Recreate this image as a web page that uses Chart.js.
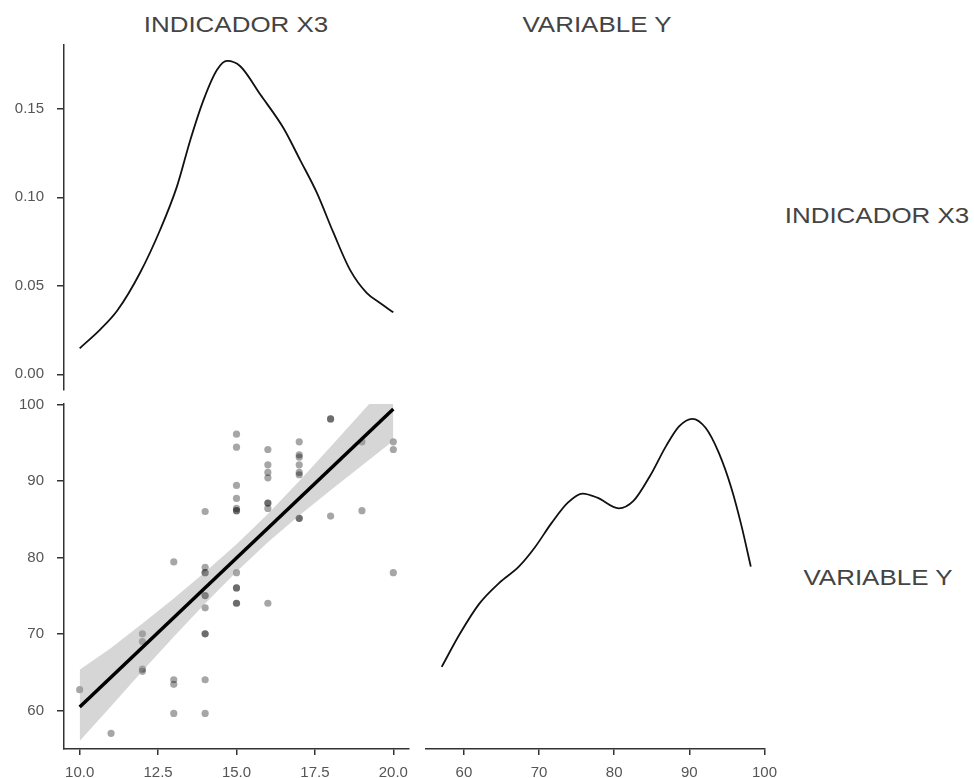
<!DOCTYPE html>
<html lang="es">
<head>
<meta charset="utf-8">
<title>Matriz de dispersión</title>
<script src="https://cdn.jsdelivr.net/npm/chart.js@4.4.1/dist/chart.umd.min.js"></script>
<style>
    body { margin: 0; background: #fff; }
    #wrap { position: relative; width: 974px; height: 778px; font-family: "Liberation Sans", Arial, sans-serif; }
    #wrap canvas { position: absolute; }
    .etiqueta {
        position: absolute;
        transform: translate(-50%, -50%) scaleX(1.18);
        white-space: nowrap;
        font-size: 22px;
        color: #444;
    }
</style>
</head>
<body>
<div id="wrap">
    <div class="etiqueta" style="left:236px; top:25px;">INDICADOR X3</div>
    <div class="etiqueta" style="left:597px; top:25px;">VARIABLE Y</div>
    <div class="etiqueta" style="left:877px; top:216px;">INDICADOR X3</div>
    <div class="etiqueta" style="left:878px; top:578px;">VARIABLE Y</div>

    <canvas id="densX3" width="420" height="365" style="left:0; top:35px;"></canvas>
    <canvas id="dispersion" width="424" height="384" style="left:0; top:394px;"></canvas>
    <canvas id="densY" width="370" height="384" style="left:416px; top:394px;"></canvas>
</div>

<script>
// Densidad del indicador X3
const x3Grid = [10.0, 10.66, 11.2, 11.93, 12.57, 13.1, 13.53, 13.95, 14.38, 14.7, 15.12, 15.76, 16.5, 17.03, 17.56, 18.09, 18.62, 19.15, 19.6, 20.0];
const x3Dens = [0.0147, 0.0254, 0.036, 0.0575, 0.0818, 0.106, 0.1325, 0.155, 0.172, 0.177, 0.174, 0.158, 0.139, 0.121, 0.1026, 0.080, 0.059, 0.046, 0.040, 0.035];

// Densidad de la variable Y
const yGrid = [57.04, 59.44, 62.05, 64.67, 67.3, 69.48, 71.65, 73.83, 75.8, 77.76, 80.6, 82.56, 84.74, 86.92, 88.66, 90.4, 92.16, 93.9, 95.65, 96.96, 98.18];
const yDens = [0.0100, 0.0140, 0.0177, 0.0202, 0.0222, 0.0246, 0.0275, 0.0300, 0.0311, 0.0306, 0.0293, 0.0302, 0.0332, 0.0369, 0.0393, 0.0402, 0.0391, 0.0361, 0.0316, 0.0271, 0.0222];

// Observaciones (X3, Y)
const obsX3 = [10, 11,
    12, 12, 12, 12,
    13, 13, 13, 13,
    14, 14, 14, 14, 14, 14, 14, 14, 14, 14, 14,
    15, 15, 15, 15, 15, 15, 15, 15, 15, 15, 15, 15,
    16, 16, 16, 16, 16, 16, 16, 16,
    17, 17, 17, 17, 17, 17, 17, 17,
    18, 18, 18,
    19, 19,
    20, 20, 20];
const obsY = [62.7, 57.0,
    70.0, 69.0, 65.4, 65.1,
    79.4, 64.0, 63.4, 59.6,
    86.0, 78.7, 78.0, 78.0, 75.0, 75.0, 73.4, 70.0, 70.0, 64.0, 59.6,
    96.1, 94.4, 89.4, 87.7, 86.4, 86.1, 86.1, 78.0, 76.0, 76.0, 74.0, 74.0,
    94.1, 92.1, 91.1, 90.4, 87.1, 87.1, 86.4, 74.0,
    95.1, 93.4, 93.1, 92.1, 91.1, 90.8, 85.1, 85.1,
    98.1, 98.1, 85.4,
    95.1, 86.1,
    95.1, 94.1, 78.0];

// Recta ajustada y banda de confianza
const rectaX = [10, 20];
const rectaY = [60.45, 99.4];
const bandaX = [10, 11, 12, 13, 14, 15, 16, 17, 18, 19, 20];
const bandaInf = [56.0, 60.55, 65.14, 69.64, 73.98, 78.13, 81.97, 85.47, 88.76, 92.01, 95.25];
const bandaSup = [65.3, 68.15, 71.34, 74.64, 78.08, 81.73, 85.67, 89.97, 94.46, 99.01, 103.55];

// Ticks de los ejes
const ticksDens = [0, 0.05, 0.10, 0.15];
const ticksX3 = [10, 12.5, 15, 17.5, 20];
const ticksY = [60, 70, 80, 90, 100];

const colorEje = '#333';
const fuenteTicks = { family: '"Liberation Sans", Arial, sans-serif', size: 15 };

const pares = (xs, ys) => xs.map((x, i) => ({ x: x, y: ys[i] }));

function ejeX(min, max, ticks, decimales) {
    return {
        type: 'linear', min: min, max: max,
        afterBuildTicks: scale => { scale.ticks = ticks.map(v => ({ value: v })); },
        afterFit: scale => { scale.height = 29; },
        ticks: { color: '#555', font: fuenteTicks, padding: 9, maxRotation: 0,
                 callback: v => v.toFixed(decimales) },
        grid: { drawOnChartArea: false, tickLength: 6, color: colorEje, lineWidth: 1.5 },
        border: { color: colorEje, width: 1.5 }
    };
}

function ejeY(min, max, ticks, decimales) {
    return {
        type: 'linear', min: min, max: max,
        afterBuildTicks: scale => { scale.ticks = ticks.map(v => ({ value: v })); },
        afterFit: scale => {
            // ancho fijo y sin relleno vertical extra por las etiquetas
            scale.width = 64;
            scale.paddingTop = 0;
            scale.paddingBottom = 0;
        },
        ticks: { color: '#555', font: fuenteTicks, padding: 13,
                 callback: v => v.toFixed(decimales) },
        grid: { drawOnChartArea: false, tickLength: 7, color: colorEje, lineWidth: 1.5 },
        border: { color: colorEje, width: 1.5 }
    };
}

const opcionesBase = {
    responsive: false,
    animation: false,
    devicePixelRatio: 1,
    plugins: { legend: { display: false }, tooltip: { enabled: false } }
};

function curva(datos) {
    return {
        data: datos, showLine: true, cubicInterpolationMode: 'monotone',
        borderColor: '#111', borderWidth: 1.8,
        pointRadius: 0, fill: false
    };
}

// Panel superior izquierdo: densidad de X3
new Chart(document.getElementById('densX3'), {
    type: 'scatter',
    data: { datasets: [curva(pares(x3Grid, x3Dens))] },
    options: Object.assign({}, opcionesBase, {
        layout: { padding: { top: 10, right: 11, bottom: 10, left: 0 } },
        scales: {
            x: { type: 'linear', min: 9.5, max: 20.5, display: false },
            y: ejeY(-0.00885, 0.186, ticksDens, 2)
        }
    })
});

// Panel inferior izquierdo: dispersión con recta ajustada
new Chart(document.getElementById('dispersion'), {
    type: 'scatter',
    data: {
        datasets: [
            {
                data: pares(rectaX, rectaY), showLine: true,
                borderColor: '#000', borderWidth: 3.5, pointRadius: 0, order: 1
            },
            {
                data: pares(bandaX, bandaInf), showLine: true,
                borderWidth: 0, borderColor: 'transparent', pointRadius: 0, order: 3
            },
            {
                data: pares(bandaX, bandaSup), showLine: true,
                borderWidth: 0, borderColor: 'transparent', pointRadius: 0,
                fill: '-1', backgroundColor: 'rgba(153,153,153,0.4)', order: 2
            },
            {
                data: pares(obsX3, obsY),
                pointRadius: 3.6, pointBorderWidth: 0,
                pointBackgroundColor: 'rgba(0,0,0,0.35)', pointBorderColor: 'transparent',
                order: 4
            }
        ]
    },
    options: Object.assign({}, opcionesBase, {
        layout: { padding: { top: 10, right: 15, bottom: 0, left: 0 } },
        scales: {
            x: ejeX(9.5, 20.5, ticksX3, 1),
            y: ejeY(54.95, 100.05, ticksY, 0)
        }
    })
});

// Panel inferior derecho: densidad de Y
new Chart(document.getElementById('densY'), {
    type: 'scatter',
    data: { datasets: [curva(pares(yGrid, yDens))] },
    options: Object.assign({}, opcionesBase, {
        layout: { padding: { top: 10, right: 16, bottom: 0, left: 10 } },
        scales: {
            x: ejeX(54.95, 100.05, ticksY, 0),
            y: { type: 'linear', min: 0, max: 0.042, display: false }
        }
    })
});
</script>
</body>
</html>
